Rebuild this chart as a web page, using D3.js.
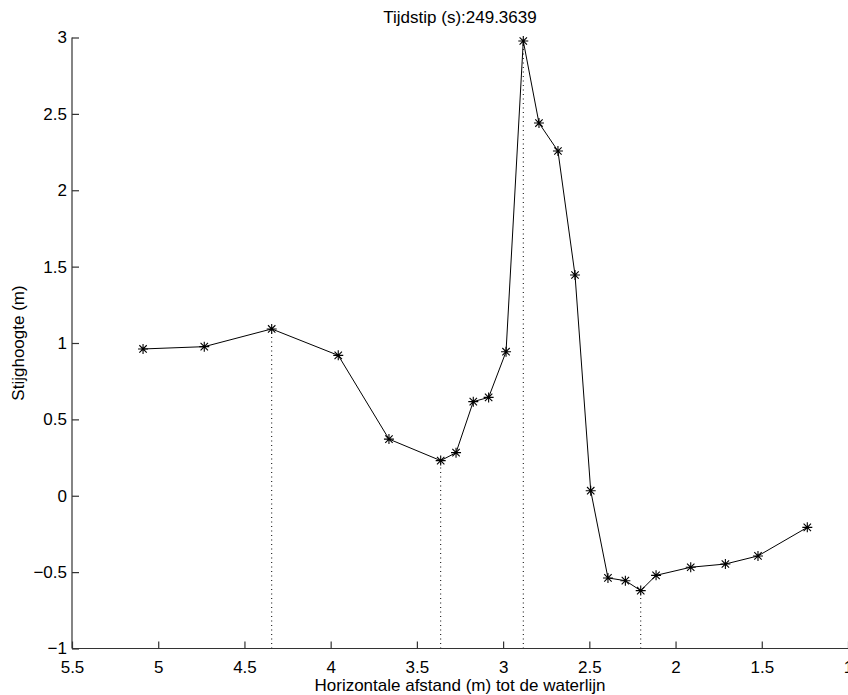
<!DOCTYPE html>
<html>
<head>
<meta charset="utf-8">
<script src="https://cdn.jsdelivr.net/npm/d3@7"></script>
<style>
  html, body { margin: 0; padding: 0; background: #fff; }
  svg { display: block; }
  text { font-family: "Liberation Sans", Arial, Helvetica, sans-serif; fill: #000; }
</style>
</head>
<body>
<svg id="chart" width="848" height="695"></svg>
<script>
// ---- data ----
const titleText = "Tijdstip (s):249.3639";
const xLabel = "Horizontale afstand (m) tot de waterlijn";
const yLabel = "Stijghoogte (m)";
const distance = [5.088, 4.733, 4.342, 3.956, 3.662, 3.362, 3.273, 3.173, 3.084, 2.983, 2.883, 2.792, 2.682, 2.583, 2.492, 2.392, 2.291, 2.202, 2.113, 1.912, 1.711, 1.522, 1.236];
const head = [0.961, 0.976, 1.092, 0.919, 0.371, 0.230, 0.282, 0.616, 0.644, 0.943, 2.977, 2.440, 2.257, 1.445, 0.033, -0.538, -0.556, -0.621, -0.521, -0.468, -0.447, -0.394, -0.207];
const extremaIndex = [2, 5, 10, 17];
const xTicks = [5.5, 5, 4.5, 4, 3.5, 3, 2.5, 2, 1.5, 1];
const yTicks = [-1, -0.5, 0, 0.5, 1, 1.5, 2, 2.5, 3];
const xDomain = [5.5, 1];
const yDomain = [-1, 3];

// ---- layout ----
const svg = d3.select("#chart");
const mLeft = 72, mRight = 848, mTop = 37.5, mBottom = 648.5;
const x = d3.scaleLinear().domain(xDomain).range([mLeft, mRight]);
const y = d3.scaleLinear().domain(yDomain).range([mBottom, mTop]);
const fontSize = 17;

// dotted verticals at extrema
svg.append("g").selectAll("line")
  .data(extremaIndex)
  .join("line")
  .attr("x1", i => x(distance[i])).attr("x2", i => x(distance[i]))
  .attr("y1", y(yDomain[0])).attr("y2", i => y(head[i]))
  .attr("stroke", "#000").attr("stroke-width", 1)
  .attr("stroke-dasharray", "1,3.5");

// line
const pts = distance.map((d, i) => [d, head[i]]);
svg.append("path")
  .datum(pts)
  .attr("fill", "none").attr("stroke", "#000").attr("stroke-width", 1)
  .attr("d", d3.line().x(d => x(d[0])).y(d => y(d[1])));

// asterisk markers
const r = 5, rd = 3.7;
const star = `M${-r},0L${r},0M0,${-r}L0,${r}M${-rd},${-rd}L${rd},${rd}M${-rd},${rd}L${rd},${-rd}`;
svg.append("g").selectAll("path")
  .data(pts)
  .join("path")
  .attr("transform", d => `translate(${x(d[0])},${y(d[1])})`)
  .attr("d", star)
  .attr("fill", "none").attr("stroke", "#000").attr("stroke-width", 1.1);

// axes
const fmt = v => (v < 0 ? "\u2212" + Math.abs(v) : String(v));
const xAxis = d3.axisBottom(x).tickValues(xTicks).tickSize(-7).tickPadding(4).tickFormat(fmt);
const yAxis = d3.axisLeft(y).tickValues(yTicks).tickSize(-7).tickPadding(5).tickFormat(fmt);

const gx = svg.append("g").attr("transform", `translate(0,${mBottom})`).call(xAxis);
const gy = svg.append("g").attr("transform", `translate(${mLeft},0)`).call(yAxis);
[gx, gy].forEach(g => {
  g.select(".domain").attr("stroke", "#333").attr("stroke-width", 1.2);
  g.selectAll(".tick line").attr("stroke", "#333").attr("stroke-width", 1.2);
  g.selectAll(".tick text").attr("font-size", fontSize).attr("font-family", "Liberation Sans, Arial, sans-serif").attr("fill", "#000");
});
gx.select(".domain").attr("d", `M${mLeft},0H${mRight}`);
gy.select(".domain").attr("d", `M0,${mBottom}V${mTop}`);
gx.selectAll(".tick text").attr("y", 8).attr("dy", "0.95em");
gy.selectAll(".tick text").attr("x", -5);

// title
svg.append("text")
  .attr("x", (mLeft + mRight) / 2).attr("y", 22.5)
  .attr("text-anchor", "middle").attr("font-size", fontSize)
  .text(titleText);

// x label
svg.append("text")
  .attr("x", (mLeft + mRight) / 2).attr("y", 691)
  .attr("text-anchor", "middle").attr("font-size", fontSize)
  .text(xLabel);

// y label
svg.append("text")
  .attr("transform", `translate(24,${(mTop + mBottom) / 2}) rotate(-90)`)
  .attr("text-anchor", "middle").attr("font-size", fontSize)
  .text(yLabel);
</script>
</body>
</html>
